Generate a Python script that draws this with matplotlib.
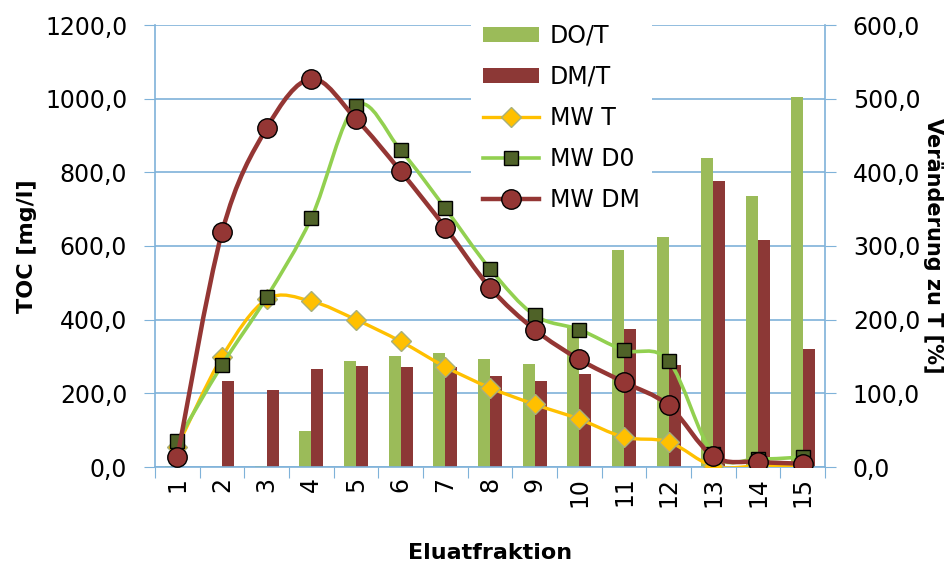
import numpy as np
import matplotlib
matplotlib.use("Agg")
import matplotlib.pyplot as plt
from matplotlib.path import Path
from matplotlib.patches import PathPatch, Patch
from matplotlib.lines import Line2D
from matplotlib.ticker import FuncFormatter

# data
fraktion = list(range(1, 16))
do_t = [1, 0, 1, 49, 144, 151, 155, 146, 140, 190, 295, 312, 420, 368, 502]   # % (right axis)
dm_t = [0, 117, 104, 133, 137, 136, 136, 123, 117, 126, 187, 139, 388, 308, 160]  # % (right axis)
mw_t = [55, 299, 455, 450, 400, 341, 272, 215, 170, 130, 81, 68, 2, 3, 5]          # mg/l
mw_d0 = [71, 277, 461, 676, 981, 860, 702, 538, 412, 373, 317, 288, 35, 22, 27]    # mg/l
mw_dm = [26, 637, 920, 1054, 945, 803, 650, 487, 373, 292, 230, 167, 29, 14, 9]    # mg/l

grid_col = "#7fb2d9"
c_do = "#9bbb59"
c_dm = "#8c3836"
c_t = "#ffc000"
c_d0 = "#92d050"
c_dml = "#943634"

plt.rcParams['font.family'] = ['DejaVu Sans']

fig = plt.figure(figsize=(9.53, 5.71), dpi=100)
ax2 = fig.add_axes([155/953, 104/571, 670/953, 442/571])  # bars, right axis
ax = fig.add_axes(ax2.get_position(), sharex=ax2)        # lines, left axis, on top
ax.patch.set_visible(False)

x = np.array(fraktion)
w = 0.27
ax2.bar(x - w/2, do_t, width=w, color=c_do, zorder=2)
ax2.bar(x + w/2, dm_t, width=w, color=c_dm, zorder=2)
ax2.set_ylim(0, 600)
ax2.set_yticks(np.arange(0, 601, 100))
ax2.yaxis.tick_right()
ax2.yaxis.set_label_position("right")
ax2.yaxis.grid(True, color=grid_col, lw=1.2, zorder=0)
ax2.set_axisbelow(True)


def smooth_path(xs, ys):
    # excel style smoothing (catmull-rom bezier)
    p = np.column_stack([xs, ys]).astype(float)
    n = len(p)
    verts = [p[0]]
    codes = [Path.MOVETO]
    for i in range(n - 1):
        pm = p[i - 1] if i > 0 else p[i]
        pp = p[i + 2] if i + 2 < n else p[i + 1]
        c1 = p[i] + (p[i + 1] - pm) / 6
        c2 = p[i + 1] - (pp - p[i]) / 6
        verts += [c1, c2, p[i + 1]]
        codes += [Path.CURVE4] * 3
    return Path(verts, codes)


series = [
    (mw_t, c_t, 2.4, 'D', 10, c_t, '#a8b07a', "MW T"),
    (mw_d0, c_d0, 2.6, 's', 10, '#4f6228', 'black', "MW D0"),
    (mw_dm, c_dml, 3.2, 'o', 14, c_dml, 'black', "MW DM"),
]
z = 3
for ys, lc, lw, mk, ms, mfc, mec, lab in series:
    ax.add_patch(PathPatch(smooth_path(x, ys), fill=False, edgecolor=lc, lw=lw, zorder=z))
    ax.plot(x, ys, linestyle='none', marker=mk, markersize=ms, markerfacecolor=mfc,
            markeredgecolor=mec, markeredgewidth=1.0, zorder=z + 0.5)
    z += 1

ax.set_ylim(0, 1200)
ax.set_yticks(np.arange(0, 1201, 200))
ax.set_xlim(0.5, 15.5)

fmt = FuncFormatter(lambda v, pos: ("%.1f" % v).replace(".", ","))
ax.yaxis.set_major_formatter(fmt)
ax2.yaxis.set_major_formatter(fmt)

# x ticks: marks at boundaries, labels at centres
ax2.set_xticks(np.arange(0.5, 15.6, 1))
ax2.set_xticks(x, minor=True)
ax2.set_xticklabels([])
ax2.set_xticklabels([str(v) for v in fraktion], minor=True, rotation=90, fontsize=17)
ax2.tick_params(axis='x', which='major', length=8, color=grid_col, direction='out')
ax2.tick_params(axis='x', which='minor', length=0, pad=7)
ax.tick_params(axis='x', which='both', bottom=False, labelbottom=False)

ax.tick_params(axis='y', length=8, color=grid_col, labelsize=17, pad=12)
ax2.tick_params(axis='y', length=8, color=grid_col, labelsize=17, pad=12)

for a in (ax, ax2):
    for s in a.spines.values():
        s.set_visible(False)
ax.spines['left'].set_visible(True)
ax.spines['left'].set_color(grid_col)
ax2.spines['right'].set_visible(True)
ax2.spines['right'].set_color(grid_col)
ax2.spines['bottom'].set_visible(True)
ax2.spines['bottom'].set_color(grid_col)
for s in ('left', 'right', 'bottom'):
    for a in (ax, ax2):
        a.spines[s].set_linewidth(1.2)

ax.set_ylabel("TOC [mg/l]", fontsize=16, fontweight='bold', labelpad=6)
ax2.set_ylabel("Veränderung zu T [%]", fontsize=15, fontweight='bold', rotation=270, labelpad=16)
ax2.set_xlabel("Eluatfraktion", fontsize=16, fontweight='bold', labelpad=26)

handles = [
    Patch(facecolor=c_do, edgecolor='none'),
    Patch(facecolor=c_dm, edgecolor='none'),
    Line2D([], [], color=c_t, lw=2.4, marker='D', markersize=10, markerfacecolor=c_t, markeredgecolor='#a8b07a'),
    Line2D([], [], color=c_d0, lw=2.6, marker='s', markersize=10, markerfacecolor='#4f6228', markeredgecolor='black'),
    Line2D([], [], color=c_dml, lw=3.2, marker='o', markersize=14, markerfacecolor=c_dml, markeredgecolor='black'),
]
labels = ["DO/T", "DM/T", "MW T", "MW D0", "MW DM"]
leg = ax.legend(handles, labels, loc='upper left', bbox_to_anchor=(471/953, 1 - 12/571),
                bbox_transform=fig.transFigure, fontsize=17, frameon=True, fancybox=False,
                borderpad=0.5, borderaxespad=0, labelspacing=0.72, handlelength=2.4,
                handletextpad=0.45, handleheight=0.6)
leg.get_frame().set_facecolor('white')
leg.get_frame().set_edgecolor('none')
leg.get_frame().set_alpha(1)
leg.set_zorder(10)

fig.savefig("out.png", dpi=100)
